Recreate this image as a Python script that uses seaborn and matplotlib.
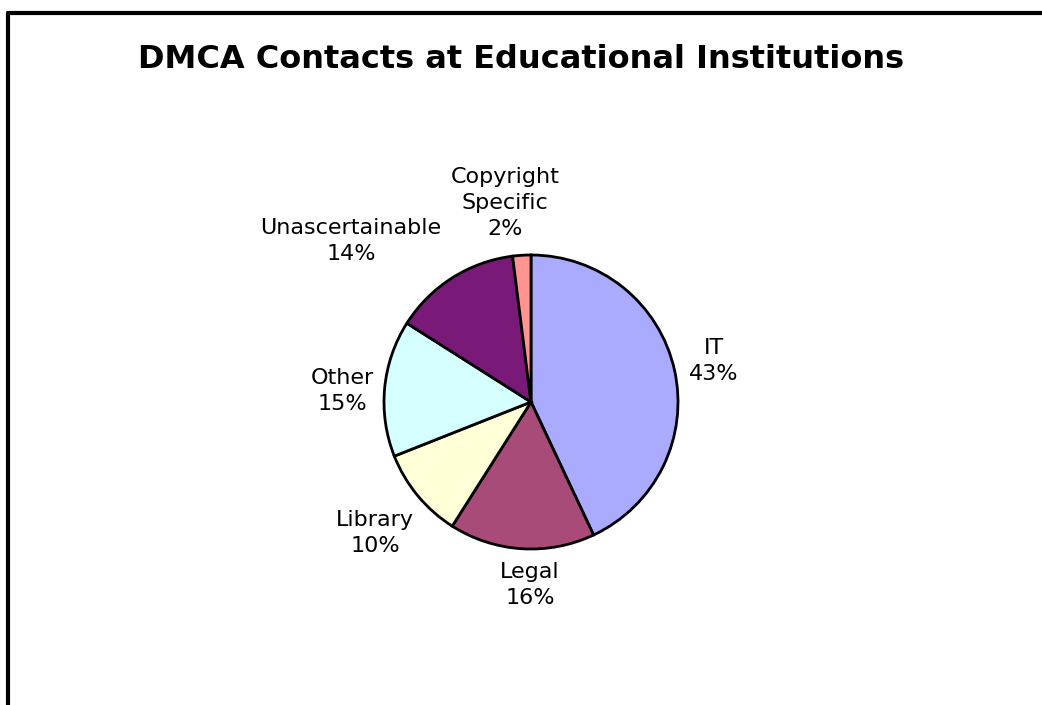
import matplotlib
matplotlib.use("Agg")
import matplotlib.pyplot as plt
import seaborn as sns
import numpy as np
from matplotlib.lines import Line2D

# dane wykresu
kategorie = ["IT", "Legal", "Library", "Other", "Unascertainable", "Copyright\nSpecific"]
udzialy = [43, 16, 10, 15, 14, 2]
kolory = ["#AAAAFF", "#A84B78", "#FFFFD8", "#D6FFFF", "#7A1A78", "#FF9490"]

sns.set_style("white")
plt.rcParams["font.family"] = ["DejaVu Sans"]
plt.rcParams["text.color"] = "black"

W, H = 1042, 705
fig = plt.figure(figsize=(W / 100, H / 100), dpi=100)

# os kolowa: srodek (531, 402), promien ~147 px
R = 147
half = 200
ax = fig.add_axes([(531 - half) / W, (H - 402 - half) / H, 2 * half / W, 2 * half / H])

wedges, texts = ax.pie(
    udzialy,
    colors=kolory,
    startangle=90,
    counterclock=False,
    wedgeprops=dict(edgecolor="black", linewidth=2),
    radius=1.0,
)
lim = half / R
ax.set_xlim(-lim, lim)
ax.set_ylim(-lim, lim)
ax.axis("off")

# etykiety: odleglosc od srodka i przesuniecie kata (w stopniach) jak w Excelu
odleglosci = [1.276, 1.245, 1.386, 1.288, 1.643, 1.365]
przesuniecia = [0, 3.3, 0.4, 2.1, 15.8, 3.8]
for w, kat, val, d, dk in zip(wedges, kategorie, udzialy, odleglosci, przesuniecia):
    ang = np.deg2rad((w.theta1 + w.theta2) / 2 + dk)
    x, y = d * np.cos(ang), d * np.sin(ang)
    ax.text(x, y, f"{kat}\n{val}%", ha="center", va="center", multialignment="center",
            fontsize=16, linespacing=1.4, color="black")

fig.suptitle("DMCA Contacts at Educational Institutions", fontsize=23,
             fontweight="bold", x=521 / W, y=1 - 60 / H, va="center", color="black")

# ramka (lewa i gorna krawedz)
fig.add_artist(Line2D([8 / W, 8 / W], [0, 1 - 13 / H], color="black", lw=3, transform=fig.transFigure))
fig.add_artist(Line2D([8 / W, 1], [1 - 13 / H, 1 - 13 / H], color="black", lw=3, transform=fig.transFigure))

fig.savefig("out.png", dpi=100)
